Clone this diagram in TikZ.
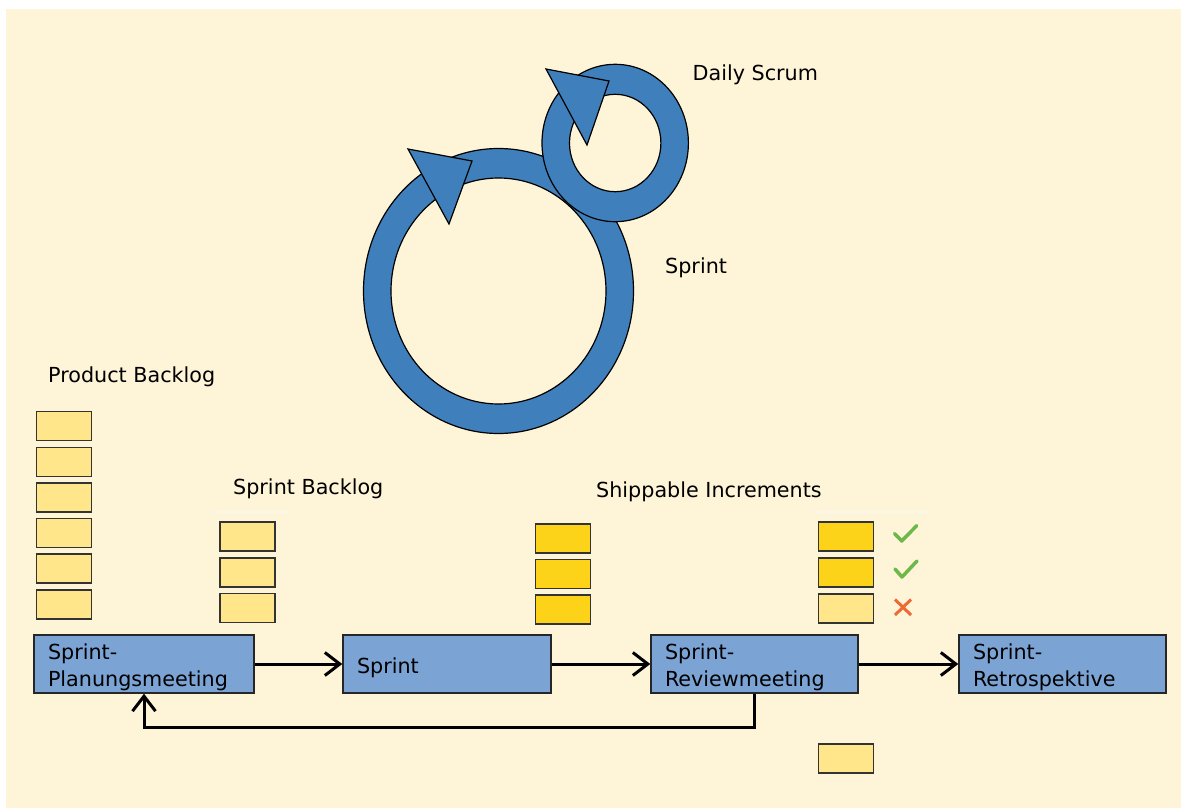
\documentclass[tikz,border=0pt]{standalone}
\usepackage{fontspec}
\setmainfont{DejaVu Sans}
\usetikzlibrary{arrows.meta}
\definecolor{cream}{HTML}{FEF4D7}
\definecolor{ringblue}{HTML}{3F80BC}
\definecolor{boxblue}{HTML}{7BA3D4}
\definecolor{lightnote}{HTML}{FFE68A}
\definecolor{darknote}{HTML}{FDD319}
\definecolor{checkgreen}{HTML}{6DB84A}
\definecolor{crossred}{HTML}{EE6A35}
\definecolor{faintline}{HTML}{FAF6EC}
\tikzset{
  lbl/.style={anchor=base west, inner sep=0pt, font=\fontsize{20.7}{27.7}\selectfont},
  procbox/.style={draw=black!85, line width=1.4pt, fill=boxblue, minimum height=58pt,
    inner xsep=14pt, inner ysep=0pt, align=left, text width=#1, text height=22.5pt,
    font=\fontsize{20.7}{27.7}\selectfont},
  note/.style={draw=black!80, line width=1.6pt, fill=lightnote, minimum width=55pt, minimum height=29pt, inner sep=0pt},
  donenote/.style={note, fill=darknote},
  flow/.style={line width=3pt, -{Straight Barb[length=15pt,width=23pt,line width=3pt]}},
  ring/.style={fill=ringblue, draw=black, line width=1.2pt, even odd rule},
  tri/.style={fill=ringblue, draw=black, line width=1.2pt, line join=miter},
}
\begin{document}
\begin{tikzpicture}[x=1pt,y=-1pt]
\useasboundingbox (0,0) rectangle (1181,808);
\fill[white] (0,0) rectangle (1181,808);
\fill[cream] (6,9) rectangle (1181,808);

% rings
\coordinate (bigc) at (498.5,291);
\coordinate (smallc) at (615.2,143);
\path[ring] (bigc) ellipse [x radius=135pt, y radius=142.5pt]
            (bigc) ellipse [x radius=107.5pt, y radius=113pt];
\path[tri] (408,149) -- (472,161) -- (449,224) -- cycle;
\path[ring] (smallc) ellipse [x radius=73.2pt, y radius=78.7pt]
            (smallc) ellipse [x radius=45.7pt, y radius=48.7pt];
\path[tri] (546,69) -- (609,81) -- (587,145) -- cycle;

\node[lbl] (daily) at (692.5,80.5) {Daily Scrum};
\node[lbl] (sprintlbl) at (665,273.5) {Sprint};
\node[lbl] (pbl) at (48,382) {Product Backlog};
\node[lbl] (sbl) at (233,494.5) {Sprint Backlog};
\node[lbl] (shl) at (596,497.5) {Shippable Increments};

% faint underlines
\draw[faintline, line width=2pt] (213,512) -- (289,512);
\draw[faintline, line width=2pt] (812,512) -- (931,512);

% product backlog notes
\node[note] (pb1) at (64,426) {};
\node[note] (pb2) at (64,462) {};
\node[note] (pb3) at (64,497.5) {};
\node[note] (pb4) at (64,533) {};
\node[note] (pb5) at (64,568.7) {};
\node[note] (pb6) at (64,604.5) {};

% sprint backlog notes
\node[note] (sb1) at (247.7,536.7) {};
\node[note] (sb2) at (247.7,572.2) {};
\node[note] (sb3) at (247.7,607.8) {};

% sprint notes
\node[donenote] (sp1) at (563,538.2) {};
\node[donenote] (sp2) at (563,574) {};
\node[donenote] (sp3) at (563,609.5) {};

% review notes
\node[donenote] (rv1) at (845.8,536.4) {};
\node[donenote] (rv2) at (845.8,572.5) {};
\node[note] (rv3) at (845.8,608.3) {};
\node[note] (rv4) at (845.8,758.3) {};

% marks
\draw[checkgreen, line width=3.5pt, line cap=round, line join=round] (894.5,533.5) -- (901.7,541) -- (916.7,525.7);
\draw[checkgreen, line width=3.5pt, line cap=round, line join=round] (895,569) -- (902,577) -- (917,561);
\draw[crossred, line width=3pt] (895,599.5) -- (911,615) (911,599.5) -- (895,615);

% process boxes
\node[procbox=192pt] (plan) at (144,664) {Sprint-\\Planungsmeeting};
\node[procbox=180pt] (sprint) at (447,664) {Sprint};
\node[procbox=179pt] (review) at (754.5,664) {Sprint-\\Reviewmeeting};
\node[procbox=179pt] (retro) at (1062.5,664) {Sprint-\\Retrospektive};

\draw[flow] (plan.east) -- (sprint.west);
\draw[flow] (sprint.east) -- (review.west);
\draw[flow] (review.east) -- (retro.west);
\draw[flow] (review.south) -- ++(0,34) -| (plan.south);
\end{tikzpicture}
\end{document}
